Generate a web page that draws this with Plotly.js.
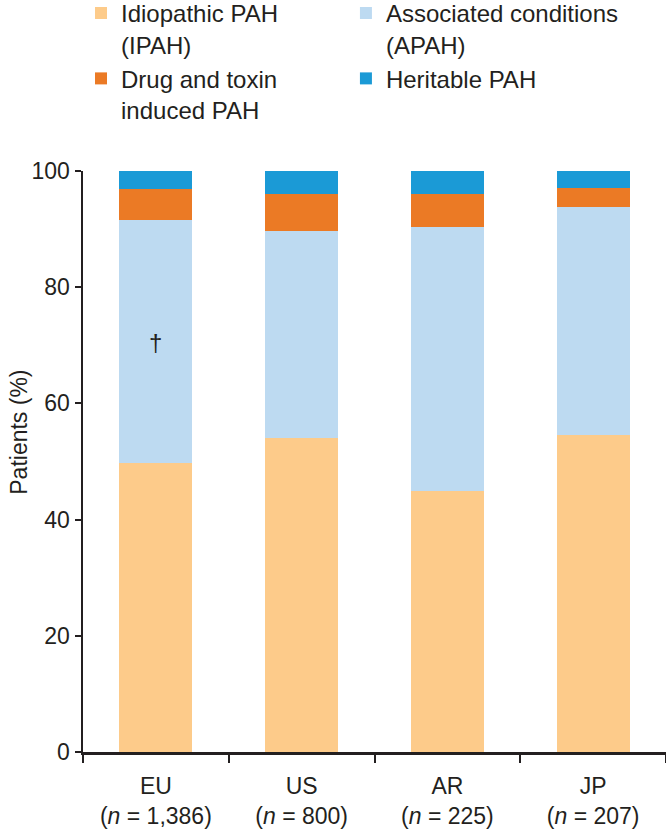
<!DOCTYPE html>
<html>
<head>
<meta charset="utf-8">
<script src="https://cdn.plot.ly/plotly-3.0.1.min.js"></script>
<style>html,body{margin:0;padding:0;background:#fff;}#chart{width:666px;height:830px;}</style>
</head>
<body>
<div id="chart"></div>
<script>
const categories = ["EU<br>(<i>n</i> = 1,386)", "US<br>(<i>n</i> = 800)", "AR<br>(<i>n</i> = 225)", "JP<br>(<i>n</i> = 207)"];
const seriesNames = ["Idiopathic PAH<br>(IPAH)", "Associated conditions<br>(APAH)", "Drug and toxin<br>induced PAH", "Heritable PAH"];
const ipah = [49.8, 54.1, 45.0, 54.6];
const apah = [41.8, 35.5, 45.4, 39.2];
const drug = [5.3, 6.4, 5.6, 3.2];
const heritable = [3.1, 4.0, 4.0, 3.0];
const yTicks = [0, 20, 40, 60, 80, 100];
const colors = ["#FDCB8A", "#BDDAF1", "#EB7A25", "#1B9AD6"];
const seriesValues = [ipah, apah, drug, heritable];
const legendOf = ["legend", "legend2", "legend", "legend2"];

const FONT = "Liberation Sans, Arial, sans-serif";
const INK = "#231f20";
const traces = seriesValues.map((vals, i) => ({
  type: "bar",
  name: seriesNames[i],
  x: categories,
  y: vals,
  legend: legendOf[i],
  marker: {color: colors[i], line: {width: 0}},
  hoverinfo: "none"
}));

const legendBase = {
  orientation: "v",
  y: 1.31, yanchor: "top", xanchor: "left",
  valign: "top",
  font: {family: FONT, size: 24, color: INK},
  traceorder: "normal",
  itemclick: false,
  bgcolor: "rgba(0,0,0,0)"
};

const layout = {
  width: 666, height: 830,
  margin: {l: 83, r: 0, t: 171, b: 78, pad: 0, autoexpand: false},
  barmode: "stack",
  bargap: 0.5,
  paper_bgcolor: "#fff",
  plot_bgcolor: "#fff",
  font: {family: FONT, size: 23, color: INK},
  showlegend: true,
  legend: Object.assign({}, legendBase, {x: -0.0034}),
  legend2: Object.assign({}, legendBase, {x: 0.451}),
  xaxis: {
    type: "category",
    tickson: "boundaries",
    ticks: "outside", ticklen: 8, tickwidth: 2, tickcolor: INK,
    showline: true, linecolor: INK, linewidth: 2.5,
    showgrid: false, zeroline: false,
    ticklabelstandoff: 12,
    tickfont: {family: FONT, size: 23, color: INK},
    range: [-0.5, 3.5]
  },
  yaxis: {
    range: [0, 100],
    tickvals: yTicks,
    ticktext: yTicks.map(String),
    ticks: "outside", ticklen: 6, tickwidth: 2, tickcolor: INK,
    showline: true, linecolor: INK, linewidth: 2.5,
    showgrid: false, zeroline: false,
    tickfont: {family: FONT, size: 23, color: INK}
  },
  annotations: [
    {
      x: categories[0], y: 70.5, xref: "x", yref: "y",
      text: "†", showarrow: false,
      font: {family: FONT, size: 24, color: INK}
    },
    {
      x: -0.11, y: 0.551, xref: "paper", yref: "paper",
      xanchor: "center", yanchor: "middle",
      text: "Patients (%)", textangle: -90, showarrow: false,
      font: {family: FONT, size: 23, color: INK}
    }
  ]
};

Plotly.newPlot("chart", traces, layout, {displayModeBar: false, staticPlot: true});
</script>
</body>
</html>
